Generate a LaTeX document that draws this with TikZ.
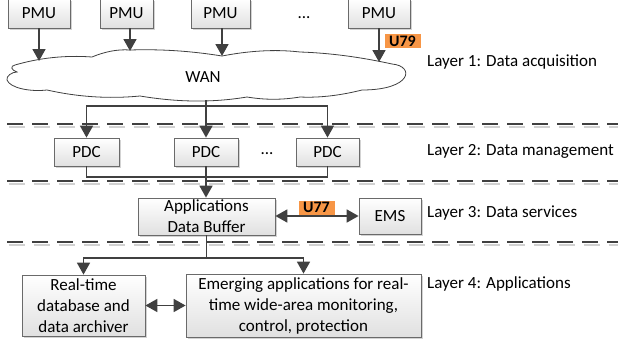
\documentclass[tikz,border=0pt]{standalone}
\usepackage{fontspec}
\setmainfont{Carlito}
\usetikzlibrary{arrows.meta,shadows,calc}
\definecolor{linec}{HTML}{404040}
\definecolor{boxc}{HTML}{6A6A6A}
\definecolor{orangeU}{HTML}{F79646}
\newcommand\labfont{\fontsize{17}{21}\selectfont}
\newcommand\tagfont{\fontsize{16}{18}\selectfont\bfseries}
\tikzset{
  box/.style={draw=boxc, line width=0.8pt, top color=white, bottom color=black!12,
    drop shadow={shadow xshift=1.5pt, shadow yshift=-1.5pt, opacity=0.35},
    inner sep=0pt, align=center, font=\labfont},
  conn/.style={draw=linec, line width=1.8pt},
  arr/.style={conn, -{Triangle[length=12pt,width=13pt]}},
  darr/.style={conn, {Triangle[length=12pt,width=13pt]}-{Triangle[length=12pt,width=13pt]}},
  dline/.style={draw=linec, line width=2pt, dash pattern=on 16pt off 9pt},
  dshadow/.style={draw=black!18, line width=2pt, dash pattern=on 16pt off 9pt},
  cloudst/.style={draw=linec, line width=0.8pt, fill=white},
  lay/.style={anchor=west, inner sep=0pt, font=\labfont},
  tag/.style={fill=orangeU, font=\tagfont, inner sep=0pt, minimum width=36, minimum height=14},
  dots/.style={inner sep=0pt, font=\labfont}
}
\begin{document}
\begin{tikzpicture}[x=1pt,y=-1pt]
\useasboundingbox (0,0) rectangle (618,343);

% layer separators
\foreach \yy in {124,181,242} {
  \draw[dshadow] (8.5,{\yy+2.5}) -- (618,{\yy+2.5});
  \draw[dline] (7,\yy) -- (618,\yy);
}

% cloud
\draw[cloudst] (15,65) .. controls (39,58) and (65,55) .. (92,57)
 .. controls (104,52) and (117,49) .. (130,50)
 .. controls (161,49) and (191,51) .. (222,56)
 .. controls (248,51) and (274,49) .. (300,52)
 .. controls (330,53) and (360,57) .. (392,64)
 .. controls (415,66) and (412,90) .. (362,90)
 .. controls (342,95) and (321,98) .. (300,97)
 .. controls (282,100) and (265,100) .. (247,97)
 .. controls (211,103) and (176,102) .. (140,96)
 .. controls (109,99) and (78,97) .. (47,90)
 .. controls (30,92) and (10,88) .. (7,80)
 .. controls (6,76) and (12,72) .. (17,72)
 .. controls (11,70) and (10,66) .. (15,65) -- cycle;
\node[font=\labfont] (wan) at (203,77) {WAN};
\coordinate (t1) at (39,61);
\coordinate (t2) at (130,51);
\coordinate (t3) at (222,56);
\coordinate (t4) at (379,62);
\coordinate (cb) at (206,100);
\coordinate (j1) at (206,106);
\coordinate (j2) at (206,177);
\coordinate (j3) at (206.5,258);

% layer 1
\node[box, minimum width=62, minimum height=29] (pmu1) at (39,13.5) {PMU};
\node[box, minimum width=53, minimum height=29] (pmu2) at (126.5,13.5) {PMU};
\node[box, minimum width=59, minimum height=29] (pmu3) at (220.5,13.5) {PMU};
\node[dots] (dd1) at (304,18) {...};
\node[box, minimum width=62, minimum height=29] (pmu4) at (379,13.5) {PMU};

% layer 2
\node[box, minimum width=65, minimum height=28] (pdc1) at (86.5,152) {PDC};
\node[box, minimum width=64, minimum height=28] (pdc2) at (206,152) {PDC};
\node[dots] (dd2) at (267,154) {...};
\node[box, minimum width=63, minimum height=28] (pdc3) at (327.5,152) {PDC};

% layer 3
\node[box, minimum width=137, minimum height=37] (buf) at (206.5,216.5) {Applications\\Data Buffer};
\node[box, minimum width=62, minimum height=36] (ems) at (390,216) {EMS};

% layer 4
\node[box, minimum width=123, minimum height=61] (rt) at (83.5,305.5) {Real-time\\database and\\data archiver};
\node[box, minimum width=235, minimum height=63] (em) at (303.5,305.5) {Emerging applications for real-\\time wide-area monitoring,\\control, protection};

% labels
\node[lay] (l1) at (427,62) {Layer 1: Data acquisition};
\node[lay] (l2) at (427,151) {Layer 2: Data management};
\node[lay] (l3) at (427,213) {Layer 3: Data services};
\node[lay] (l4) at (427,284) {Layer 4: Applications};

% connectors
\draw[arr] (pmu1.south -| t1) -- (t1);
\draw[arr] (pmu2.south -| t2) -- (t2);
\draw[arr] (pmu3.south -| t3) -- (t3);
\draw[arr] (pmu4.south -| t4) -- (t4);

\draw[arr] (cb) -- (cb |- pdc2.north);
\draw[arr] (j1) -| (pdc1.north);
\draw[arr] (j1) -| (pdc3.north);

\draw[conn] (pdc1.south) |- (j2);
\draw[conn] (pdc3.south) |- (j2);
\draw[arr] (pdc2.south) -- (pdc2.south |- buf.north);

\draw[darr] (buf.east |- ems.west) -- (ems.west);

\draw[conn] (buf.south -| j3) -- (j3);
\draw[arr] (j3) -| (rt.north);
\draw[arr] (j3) -| (em.north);
\draw[darr] (rt.east) -- (em.west);

% tags
\node[tag] (u79) at (402.5,41) {U79};
\node[tag] (u77) at (316.5,207.5) {U77};
\end{tikzpicture}
\end{document}
